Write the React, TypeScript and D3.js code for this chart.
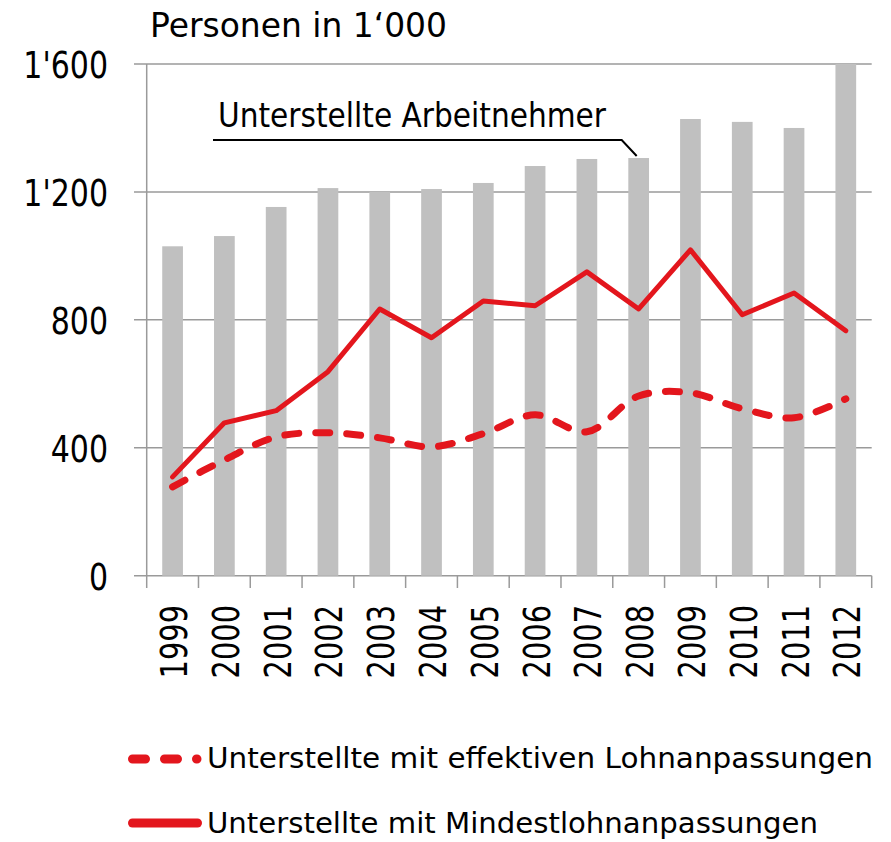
import React from "react";
import * as d3 from "d3";

const years = ["1999","2000","2001","2002","2003","2004","2005","2006","2007","2008","2009","2010","2011","2012"];
const unterstellte = [1030,1062,1153,1212,1200,1209,1228,1281,1303,1306,1428,1419,1400,1600];
const mindestlohn = [309,478,516,638,834,744,859,844,950,834,1019,816,884,766];
const effektiv = [278,362,434,447,431,403,444,503,450,562,572,522,494,553];
const yTicks = [0,400,800,1200,1600];
const yTickLabels = ["0","400","800","1'200","1'600"];
const titleText = "Personen in 1‘000";
const annotationText = "Unterstellte Arbeitnehmer";
const legendLabels = ["Unterstellte mit effektiven Lohnanpassungen", "Unterstellte mit Mindestlohnanpassungen"];

const FONT = "'DejaVu Sans', sans-serif";
const RED = "#e3161d";
const GRID = "#9a9a9a";
const BAR = "#c0c0c0";

export default function App() {
  const W = 891, H = 842;
  const left = 146.7, right = 871.7, top = 64, bottom = 575.7;
  const x = d3.scaleBand().domain(years).range([left, right]).paddingInner(0).paddingOuter(0);
  const y = d3.scaleLinear().domain([0, 1600]).range([bottom, top]);
  const bw = x.bandwidth() * 0.4;
  const cx = (yr: string) => (x(yr) as number) + x.bandwidth() / 2;

  const solid = d3.line<number>().x((_, i) => cx(years[i])).y(v => y(v))(mindestlohn) as string;
  const dashed = d3.line<number>().x((_, i) => cx(years[i])).y(v => y(v)).curve(d3.curveCatmullRom.alpha(0.5))(effektiv) as string;

  const boundaries = years.map(yr => x(yr) as number).concat([right]);

  return (
    <svg width={W} height={H} style={{ position: "absolute", left: 0, top: 0 }} fontFamily={FONT}>
      <rect width={W} height={H} fill="#fff" />
      {yTicks.map(t => (
        <line key={t} x1={134} x2={right} y1={y(t)} y2={y(t)} stroke={GRID} strokeWidth={1.5} />
      ))}
      {years.map((yr, i) => (
        <rect key={yr} x={cx(yr) - bw / 2} y={y(unterstellte[i])} width={bw} height={bottom - y(unterstellte[i])} fill={BAR} />
      ))}
      <line x1={left} x2={left} y1={top} y2={bottom} stroke={GRID} strokeWidth={1.5} />
      {boundaries.map((b, i) => (
        <line key={i} x1={b} x2={b} y1={bottom} y2={588} stroke={GRID} strokeWidth={1.5} />
      ))}
      {yTicks.map((t, i) => (
        <text key={t} transform={`translate(108,${y(t) + 14}) scale(0.79,1)`} textAnchor="end" fontSize={38} fill="#000">{yTickLabels[i]}</text>
      ))}
      {years.map(yr => (
        <text key={yr} transform={`translate(${cx(yr) + 14.5},605) rotate(-90) scale(0.76,1)`} textAnchor="end" fontSize={38} fill="#000">{yr}</text>
      ))}
      <path d={dashed} fill="none" stroke={RED} strokeWidth={7} strokeDasharray="14 17" strokeLinecap="round" />
      <path d={solid} fill="none" stroke={RED} strokeWidth={5} strokeLinejoin="round" strokeLinecap="round" />
      <text x={150} y={37} fontSize={34} textLength={297} lengthAdjust="spacingAndGlyphs" fill="#000">{titleText}</text>
      <text x={218} y={127} fontSize={34} textLength={388} lengthAdjust="spacingAndGlyphs" fill="#000">{annotationText}</text>
      <polyline points="213,140 621.7,140 636.7,156" fill="none" stroke="#000" strokeWidth={2} />
      <line x1={132.5} x2={197} y1={759} y2={759} stroke={RED} strokeWidth={9} strokeDasharray="13 19" strokeLinecap="round" />
      <text x={207} y={768} fontSize={29} textLength={666} lengthAdjust="spacingAndGlyphs" fill="#000">{legendLabels[0]}</text>
      <line x1={132.5} x2={197.5} y1={823} y2={823} stroke={RED} strokeWidth={9} strokeLinecap="round" />
      <text x={207} y={833} fontSize={29} textLength={611} lengthAdjust="spacingAndGlyphs" fill="#000">{legendLabels[1]}</text>
    </svg>
  );
}
